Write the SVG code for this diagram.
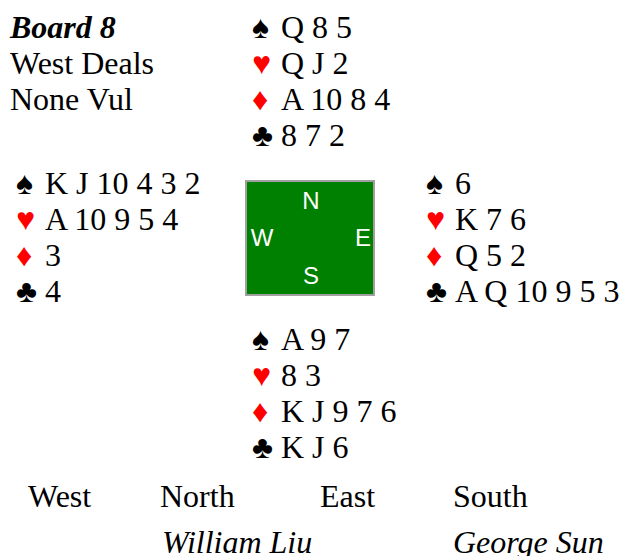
<svg xmlns="http://www.w3.org/2000/svg" width="619" height="556" viewBox="0 0 619 556">
<rect width="619" height="556" fill="#ffffff"/>
<text x="10" y="38" font-family="Liberation Serif" font-size="32" font-weight="bold" font-style="italic">Board 8</text>
<text x="10" y="74" font-family="Liberation Serif" font-size="32">West Deals</text>
<text x="10" y="110" font-family="Liberation Serif" font-size="32">None Vul</text>
<text x="252" y="38" font-family="Liberation Serif" font-size="32">♠</text>
<text x="281" y="38" font-family="Liberation Serif" font-size="32">Q 8 5</text>
<text x="252" y="74" font-family="Liberation Serif" font-size="32" fill="#ff0000">♥</text>
<text x="281" y="74" font-family="Liberation Serif" font-size="32">Q J 2</text>
<text x="252" y="110" font-family="Liberation Serif" font-size="32" fill="#ff0000">♦</text>
<text x="281" y="110" font-family="Liberation Serif" font-size="32">A 10 8 4</text>
<text x="252" y="146" font-family="Liberation Serif" font-size="32">♣</text>
<text x="281" y="146" font-family="Liberation Serif" font-size="32">8 7 2</text>
<text x="16" y="194" font-family="Liberation Serif" font-size="32">♠</text>
<text x="45" y="194" font-family="Liberation Serif" font-size="32">K J 10 4 3 2</text>
<text x="16" y="230" font-family="Liberation Serif" font-size="32" fill="#ff0000">♥</text>
<text x="45" y="230" font-family="Liberation Serif" font-size="32">A 10 9 5 4</text>
<text x="16" y="266" font-family="Liberation Serif" font-size="32" fill="#ff0000">♦</text>
<text x="45" y="266" font-family="Liberation Serif" font-size="32">3</text>
<text x="16" y="302" font-family="Liberation Serif" font-size="32">♣</text>
<text x="45" y="302" font-family="Liberation Serif" font-size="32">4</text>
<rect x="246" y="181" width="128" height="114" fill="#008000" stroke="#a0a0a0" stroke-width="2"/>
<text x="311" y="209" font-family="Liberation Sans" font-size="24" fill="#ffffff" text-anchor="middle">N</text>
<text x="262" y="246" font-family="Liberation Sans" font-size="24" fill="#ffffff" text-anchor="middle">W</text>
<text x="363" y="246" font-family="Liberation Sans" font-size="24" fill="#ffffff" text-anchor="middle">E</text>
<text x="311" y="284" font-family="Liberation Sans" font-size="24" fill="#ffffff" text-anchor="middle">S</text>
<text x="426" y="194" font-family="Liberation Serif" font-size="32">♠</text>
<text x="455" y="194" font-family="Liberation Serif" font-size="32">6</text>
<text x="426" y="230" font-family="Liberation Serif" font-size="32" fill="#ff0000">♥</text>
<text x="455" y="230" font-family="Liberation Serif" font-size="32">K 7 6</text>
<text x="426" y="266" font-family="Liberation Serif" font-size="32" fill="#ff0000">♦</text>
<text x="455" y="266" font-family="Liberation Serif" font-size="32">Q 5 2</text>
<text x="426" y="302" font-family="Liberation Serif" font-size="32">♣</text>
<text x="455" y="302" font-family="Liberation Serif" font-size="32">A Q 10 9 5 3</text>
<text x="252" y="350" font-family="Liberation Serif" font-size="32">♠</text>
<text x="281" y="350" font-family="Liberation Serif" font-size="32">A 9 7</text>
<text x="252" y="386" font-family="Liberation Serif" font-size="32" fill="#ff0000">♥</text>
<text x="281" y="386" font-family="Liberation Serif" font-size="32">8 3</text>
<text x="252" y="422" font-family="Liberation Serif" font-size="32" fill="#ff0000">♦</text>
<text x="281" y="422" font-family="Liberation Serif" font-size="32">K J 9 7 6</text>
<text x="252" y="458" font-family="Liberation Serif" font-size="32">♣</text>
<text x="281" y="458" font-family="Liberation Serif" font-size="32">K J 6</text>
<text x="28" y="507" font-family="Liberation Serif" font-size="32">West</text>
<text x="160" y="507" font-family="Liberation Serif" font-size="32">North</text>
<text x="320" y="507" font-family="Liberation Serif" font-size="32">East</text>
<text x="453" y="507" font-family="Liberation Serif" font-size="32">South</text>
<text x="162" y="553" font-family="Liberation Serif" font-size="32" font-style="italic">William Liu</text>
<text x="453" y="553" font-family="Liberation Serif" font-size="32" font-style="italic">George Sun</text>
</svg>
